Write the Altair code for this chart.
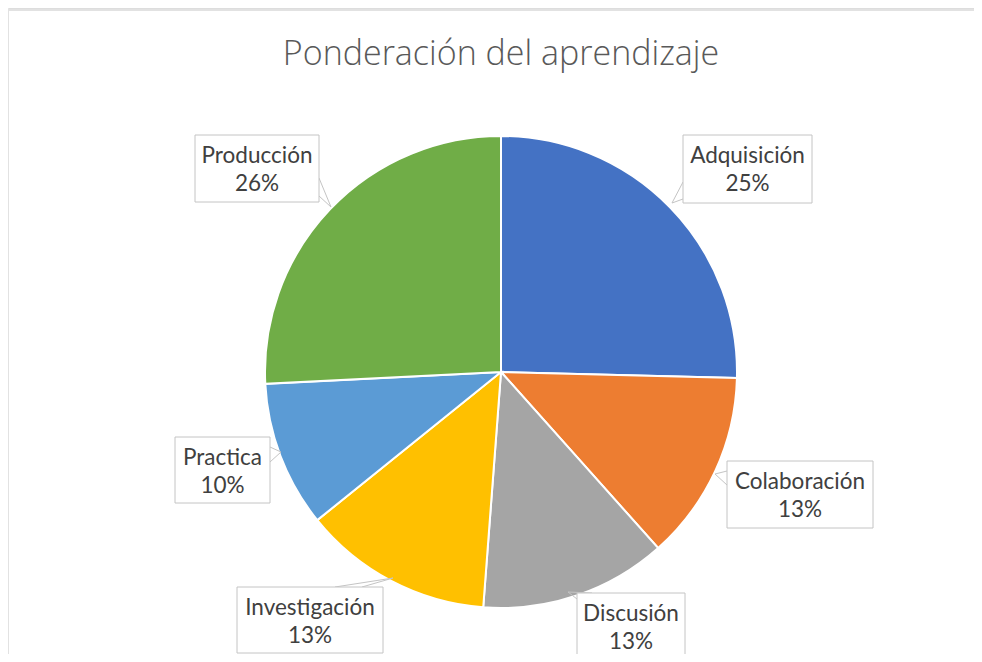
import altair as alt
import pandas as pd

# --- data ---
categories = ["Adquisición", "Colaboración", "Discusión", "Investigación", "Practica", "Producción"]
values = [25.4, 13.0, 12.8, 13.0, 10.0, 25.8]
colors = ["#4472C4", "#ED7D31", "#A5A5A5", "#FFC000", "#5B9BD5", "#70AD47"]
title_text = "Ponderación del aprendizaje"

# --- layout of callout boxes (chart pixel coords, page - 8) ---
box_left = [675, 719, 569, 229, 167, 187]
box_top = [127, 453, 585, 579, 429, 127]
box_right = [804, 865, 677, 375, 262, 311]
box_bottom = [195, 520, 660, 645, 495, 194]
ptr_base1 = [(675, 174), (719, 463), (569, 591), (327, 579), (262, 439), (311, 170)]
ptr_base2 = [(675, 191), (719, 477), (584, 585), (354, 579), (262, 454), (311, 188)]
ptr_tip = [(664, 195), (707, 466), (560, 584), (385, 570), (273, 444), (323, 199)]

CX, CY, R = 493, 364, 236
W, H = 966, 646

total = sum(values)
df = pd.DataFrame({
    "cat": categories,
    "value": values,
    "idx": list(range(len(categories))),
    "pct": [f"{round(v / total * 100)}%" for v in values],
    "x1": box_left, "x2": box_right, "y1": box_top, "y2": box_bottom,
})
df["cx"] = (df["x1"] + df["x2"]) / 2
df["ty1"] = df["y1"] + 28
df["ty2"] = df["y1"] + 56

ptr_rows = []
for i in range(len(categories)):
    for b in (ptr_base1[i], ptr_base2[i]):
        ptr_rows.append({"x": b[0], "y": b[1], "x2": ptr_tip[i][0], "y2": ptr_tip[i][1]})
ptr_df = pd.DataFrame(ptr_rows)

frame_df = pd.DataFrame({"x": [0, 0], "y": [2, 2], "x2": [W, 0], "y2": [2, H]})

pie = alt.Chart(df).mark_arc(outerRadius=R, stroke="white", strokeWidth=2).encode(
    theta=alt.Theta("value:Q", stack=True),
    color=alt.Color("cat:N", scale=alt.Scale(domain=categories, range=colors), legend=None),
    order=alt.Order("idx:Q"),
    x=alt.value(CX),
    y=alt.value(CY),
)

frame = alt.Chart(frame_df).mark_rule(color="#e2e2e2", strokeWidth=2).encode(
    x=alt.X("x:Q", scale=None, axis=None), y=alt.Y("y:Q", scale=None, axis=None),
    x2="x2:Q", y2="y2:Q",
)

boxes = alt.Chart(df).mark_rect(fill="white", stroke="#c4c4c4", strokeWidth=1).encode(
    x=alt.X("x1:Q", scale=None, axis=None), x2="x2:Q",
    y=alt.Y("y1:Q", scale=None, axis=None), y2="y2:Q",
)

pointers = alt.Chart(ptr_df).mark_rule(color="#c4c4c4", strokeWidth=1).encode(
    x=alt.X("x:Q", scale=None, axis=None), y=alt.Y("y:Q", scale=None, axis=None),
    x2="x2:Q", y2="y2:Q",
)

lab1 = alt.Chart(df).mark_text(font="Lato", fontSize=22.5, color="#404040", baseline="alphabetic", align="center").encode(
    x=alt.X("cx:Q", scale=None, axis=None), y=alt.Y("ty1:Q", scale=None, axis=None), text="cat:N",
)
lab2 = alt.Chart(df).mark_text(font="Lato", fontSize=22.5, color="#404040", baseline="alphabetic", align="center").encode(
    x=alt.X("cx:Q", scale=None, axis=None), y=alt.Y("ty2:Q", scale=None, axis=None), text="pct:N",
)

title = alt.Chart(pd.DataFrame({"t": [title_text]})).mark_text(
    font="Open Sans", fontSize=34, fontWeight=300, color="#595959", baseline="alphabetic", align="center"
).encode(x=alt.value(CX), y=alt.value(57), text="t:N")

chart = alt.layer(frame, pie, pointers, boxes, lab1, lab2, title).properties(
    width=W, height=H, padding=0,
    autosize=alt.AutoSizeParams(type="none"),
).configure_view(stroke="transparent", strokeWidth=0).configure(background="white")

chart.save("out.html", embed_options={"renderer": "svg", "actions": False})
